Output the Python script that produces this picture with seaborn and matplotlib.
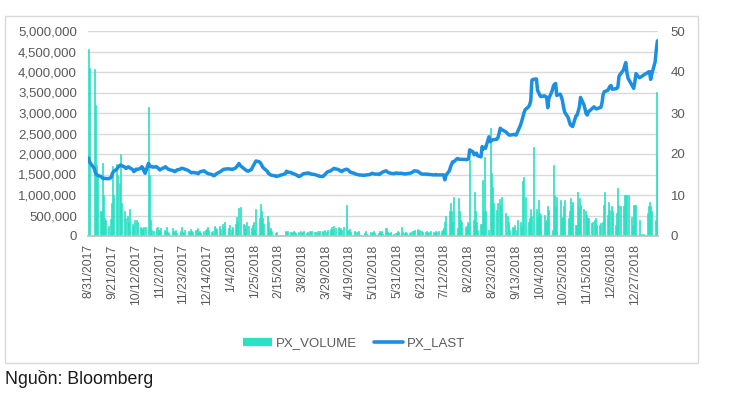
import numpy as np
import pandas as pd
import matplotlib
matplotlib.use("Agg")
import matplotlib.pyplot as plt
import matplotlib.dates as mdates
from matplotlib.lines import Line2D
from matplotlib.patches import Rectangle
import seaborn as sns

# ---------------- data ----------------
start_date = "2017-08-31"
end_date = "2019-01-16"
market_holidays = ["2017-09-04", "2018-01-01", "2018-02-14", "2018-02-15", "2018-02-16",
                   "2018-02-19", "2018-02-20", "2018-04-25", "2018-04-30", "2018-05-01",
                   "2018-09-03", "2019-01-01"]

# PX_VOLUME in thousands of shares, one line per trading week
vol_k = [
    4560, 4100,
    4070, 3200, 1730, 1500,
    600, 1770, 1000, 450, 400,
    250, 420, 800, 1700, 1000,
    1750, 1500, 1300, 2000, 800,
    600, 450, 500, 350, 650,
    300, 250, 380, 400, 350,
    220, 180, 200, 230, 210,
    3150, 1500, 400, 150, 120,
    200, 220, 150, 120, 200,
    150, 120, 220, 100, 80,
    200, 110, 90, 150, 80,
    120, 230, 100, 80, 150,
    120, 90, 180, 120, 100,
    150, 200, 90, 130, 80,
    110, 140, 180, 220, 150,
    90, 130, 250, 200, 160,
    250, 180, 300, 220, 350,
    200, 260, 150, 220,
    300, 470, 350, 690, 700,
    300, 270, 200, 350, 250,
    200, 280, 350, 150, 670,
    430, 770, 600, 450, 300,
    500, 350, 150, 200, 120,
    80, 100,
    120, 90, 110,
    100, 80, 120, 90, 70,
    90, 110, 80, 100, 120,
    80, 100, 110, 90, 120,
    100, 90, 130, 80, 110,
    120, 100, 140, 90, 150,
    180, 220, 150, 250, 200,
    230, 180, 200, 150, 210,
    760, 150, 120, 180, 100,
    120, 90, 100, 130,
    80, 120, 60,
    100, 60, 90, 120, 80,
    70, 110, 90, 120, 60,
    190, 100, 80, 70, 90,
    60, 80, 70, 110, 90,
    230, 90, 80, 100, 70,
    80, 90, 110, 120, 150,
    160, 130, 150, 120, 100,
    90, 120, 80, 100, 110,
    100, 80, 120, 90, 110,
    120, 150, 190, 350, 500,
    620, 800, 600, 350, 960,
    200, 920, 600, 400, 350,
    230, 250, 350, 300, 1850,
    400, 1080, 600, 350, 150,
    300, 1370, 600, 1930, 600,
    150, 2630, 1530, 1200, 800,
    640, 800, 900, 750, 960,
    550, 500, 350, 150,
    230, 200, 270, 150, 390,
    350, 250, 1330, 1450, 960,
    350, 450, 670, 500, 2180,
    670, 470, 880, 550, 510,
    510, 350, 390, 720, 640,
    150, 1730, 1000, 700, 960,
    880, 430, 470, 720, 880,
    430, 600, 920, 720, 840,
    270, 1080, 700, 920, 760,
    670, 600, 510, 450, 430,
    310, 350, 380, 430, 270,
    270, 310, 350, 760, 1080,
    510, 840, 630, 720, 600,
    270, 550, 1160, 760, 720,
    720, 1000, 1000, 1000, 1000,
    470, 270, 760, 760, 760,
    390, 40, 30, 50,
    550, 720, 840, 720, 600,
    390, 3520, 1950,
]

# PX_LAST, one line per trading week
px_last = [
    19.0, 18.0,
    16.5, 15.5, 15.0, 14.8,
    14.5, 14.2, 14.0, 14.1, 14.0,
    14.0, 14.1, 14.3, 15.2, 15.7,
    16.3, 16.8, 17.0, 17.3, 17.2,
    16.8, 16.5, 16.6, 16.9, 16.7,
    16.2, 15.7, 15.9, 16.3, 16.2,
    16.5, 16.9, 16.6, 15.8, 15.3,
    17.7, 17.2, 16.9, 16.9, 16.8,
    16.9, 16.7, 16.4, 16.1, 16.3,
    16.7, 16.9, 16.6, 16.4, 16.2,
    16.0, 15.9, 15.7, 15.8, 16.1,
    16.3, 16.5, 16.5, 16.4, 16.3,
    16.0, 15.8, 15.6, 15.4, 15.5,
    15.4, 15.3, 15.2, 15.5, 15.7,
    15.9, 15.7, 15.5, 15.3, 15.2,
    15.0, 14.8, 14.7, 14.9, 15.2,
    15.6, 15.8, 16.0, 16.2, 16.3,
    16.4, 16.3, 16.3, 16.2,
    16.6, 16.9, 17.3, 17.7, 17.2,
    16.5, 16.3, 16.1, 15.9, 15.8,
    16.2, 16.8, 17.3, 17.8, 18.3,
    18.1, 17.8, 17.3, 16.8, 16.5,
    15.8, 15.3, 15.1, 14.9, 14.8,
    14.7, 14.5,
    15.2, 15.8, 15.6,
    15.5, 15.3, 15.2, 15.1, 15.0,
    14.5, 14.6, 14.8, 15.0, 15.2,
    15.3, 15.4, 15.3, 15.2, 15.1,
    15.0, 14.9, 14.8, 14.7, 14.6,
    14.5, 14.7, 15.0, 15.3, 15.6,
    15.9, 16.1, 16.3, 16.5, 16.4,
    16.2, 16.0, 15.8, 15.7, 16.0,
    16.3, 16.2, 16.0, 15.7, 15.5,
    15.3, 15.1, 15.0, 14.9,
    14.8, 14.9, 14.9,
    15.0, 15.2, 15.3, 15.2, 15.1,
    15.1, 15.0, 15.2, 15.4, 15.6,
    15.9, 15.7, 15.5, 15.4, 15.3,
    15.2, 15.3, 15.4, 15.3, 15.3,
    15.3, 15.2, 15.2, 15.1, 15.2,
    15.3, 15.4, 15.5, 15.7, 15.9,
    15.8, 15.6, 15.4, 15.2, 15.1,
    15.1, 15.0, 15.1, 15.0, 15.0,
    14.9, 14.9, 15.0, 14.9, 14.9,
    14.9, 14.9, 14.9, 13.7, 14.8,
    15.9, 16.8, 17.5, 18.1, 18.1,
    18.9, 18.8, 18.7, 18.7, 18.7,
    18.7, 18.6, 18.7, 18.8, 21.0,
    20.5, 19.8, 20.0, 20.2, 19.6,
    19.3, 21.8, 21.2, 21.6, 21.4,
    24.2, 23.0, 23.2, 23.4, 23.5,
    23.6, 24.0, 25.0, 26.3, 26.0,
    25.4, 25.1, 24.8, 24.6,
    24.7, 24.8, 24.7, 24.6, 25.2,
    27.1, 28.0, 29.0, 30.0, 30.8,
    31.5, 32.0, 33.0, 38.0, 38.2,
    38.3, 35.5, 35.0, 34.3, 34.0,
    34.2, 34.0, 33.9, 31.3, 33.5,
    35.5, 36.6, 37.0, 37.2, 34.3,
    34.6, 34.0, 33.0, 31.4, 30.2,
    28.9, 28.0, 27.1, 26.9, 26.7,
    29.3, 29.5, 30.5, 31.5, 33.8,
    32.0, 31.0, 29.8, 29.5, 30.3,
    31.0, 31.3, 31.5, 31.2, 31.0,
    31.3, 31.4, 32.5, 34.5, 35.2,
    35.5, 36.0, 36.5, 36.7, 35.8,
    35.9, 36.0, 36.3, 38.9, 39.4,
    40.5, 41.5, 42.3, 39.9, 38.5,
    37.0, 36.5, 36.0, 37.5, 39.6,
    38.6, 38.9, 39.1, 39.3,
    39.8, 40.0, 40.1, 38.2, 39.5,
    42.5, 45.5, 47.6,
]

vol_ticks = [0, 500000, 1000000, 1500000, 2000000, 2500000, 3000000, 3500000, 4000000, 4500000, 5000000]
px_ticks = [0, 10, 20, 30, 40, 50]
legend_labels = ["PX_VOLUME", "PX_LAST"]
source_text = "Nguồn: Bloomberg"

# ---------------- build ----------------
trade_dates = pd.bdate_range(start_date, end_date, freq="C", holidays=market_holidays)
n = min(len(trade_dates), len(vol_k), len(px_last))
df = pd.DataFrame({
    "date": mdates.date2num(trade_dates[:n].to_pydatetime()),
    "volume": np.array(vol_k[:n], dtype=float) * 1000,
    "price": np.array(px_last[:n], dtype=float),
})

BAR = "#2ce0c4"
LINE = "#1b8fe2"
GRID = "#d9d9d9"
TXT = "#595959"

sns.set_theme(style="white")
plt.rcParams["font.family"] = ["Liberation Sans", "DejaVu Sans"]

W, H = 730, 398
fig = plt.figure(figsize=(W / 100, H / 100), dpi=100)
fig.patch.set_facecolor("white")

ax = fig.add_axes([88 / W, 1 - 236 / H, 570 / W, 205 / H])
ax2 = ax.twinx()

sns.histplot(data=df, x="date", weights="volume", discrete=True, shrink=0.9,
             color=BAR, alpha=1, linewidth=0.5, edgecolor=BAR, stat="count", ax=ax)
sns.lineplot(data=df, x="date", y="price", color=LINE, linewidth=2.5, ax=ax2)

d0 = mdates.date2num(pd.Timestamp(start_date).to_pydatetime())
d1 = mdates.date2num(pd.Timestamp(end_date).to_pydatetime())
ax.set_xlim(d0 - 0.5, d1 + 0.5)
ax.set_ylim(0, 5000000)
ax2.set_ylim(0, 50)

ax.set_yticks(vol_ticks)
ax.set_yticklabels([f"{v:,.0f}" for v in vol_ticks])
ax2.set_yticks(px_ticks)
ax2.set_yticklabels([str(v) for v in px_ticks])

xt = pd.date_range(start_date, end_date, freq="21D")
ax.set_xticks(mdates.date2num(xt.to_pydatetime()))
ax.set_xticklabels([f"{d.month}/{d.day}/{d.year}" for d in xt], rotation=90, va="top")

ax.yaxis.grid(True, color=GRID, linewidth=1)
ax.xaxis.grid(False)
ax.set_axisbelow(True)
ax2.grid(False)

for s in ["left", "right", "top"]:
    ax.spines[s].set_visible(False)
ax.spines["bottom"].set_color("#bfbfbf")
for s in ax2.spines.values():
    s.set_visible(False)

ax.tick_params(axis="y", length=0, pad=8, labelsize=9.5, labelcolor=TXT)
ax.tick_params(axis="x", length=0, pad=6, labelsize=8.7, labelcolor=TXT)
ax2.tick_params(axis="y", length=0, pad=9, labelsize=9.5, labelcolor=TXT)
ax.set_xlabel("")
ax.set_ylabel("")
ax2.set_xlabel("")
ax2.set_ylabel("")

handles = [Line2D([0], [0], color=BAR, lw=6, solid_capstyle="butt"),
           Line2D([0], [0], color=LINE, lw=2.6, solid_capstyle="round")]
fig.legend(handles, legend_labels, loc="center", bbox_to_anchor=(354 / W, 1 - 343 / H),
           ncol=2, frameon=False, fontsize=9.5, labelcolor=TXT, handlelength=2.2,
           handletextpad=0.3, columnspacing=1.3)

fig.patches.append(Rectangle((5 / W, 1 - 363 / H), (698 - 5) / W, (363 - 16) / H,
                             transform=fig.transFigure, fill=False,
                             edgecolor="#d9d9d9", linewidth=1))

fig.text(5 / W, 1 - 379 / H, source_text, fontsize=12.8, color="#1a1a1a",
         ha="left", va="center")

fig.savefig("out.png", dpi=100, facecolor="white")
